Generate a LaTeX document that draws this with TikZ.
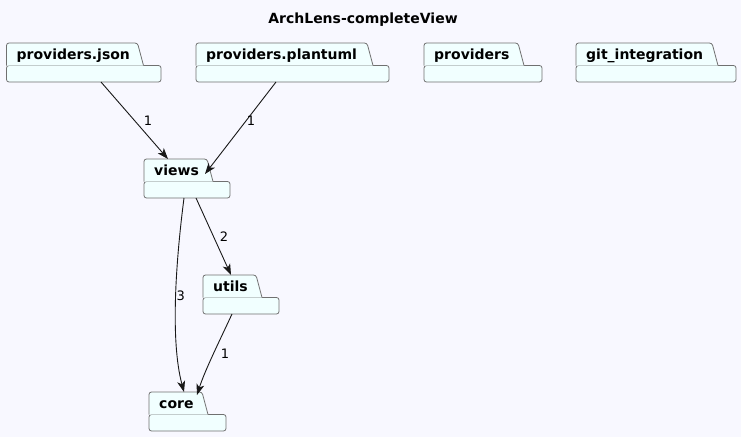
\documentclass[tikz,border=0pt]{standalone}
\usepackage{fontspec}
\setmainfont{DejaVu Sans}
\usetikzlibrary{arrows.meta,calc}
\definecolor{bgcol}{HTML}{F8F8FF}
\definecolor{pkgfill}{HTML}{F1FFFF}
\definecolor{pkgline}{HTML}{707070}
\definecolor{edgecol}{HTML}{181818}
\tikzset{
  pkgframe/.style={inner sep=0pt, outer sep=0pt, minimum height=39pt, anchor=north west},
  pkgshape/.style={draw=pkgline, fill=pkgfill, line width=0.8pt, rounded corners=2.5pt},
  pkglabel/.style={anchor=base west, inner sep=0pt, font=\fontsize{14}{16}\selectfont\bfseries},
  dep/.style={draw=edgecol, line width=0.9pt, -{Stealth[length=11pt,width=8pt,inset=3pt]}},
  deplabel/.style={font=\fontsize{13}{15}\selectfont, text=black, inner sep=0pt, anchor=center}
}
% package: name, left x, top y, tab width, body width, label
\newcommand\umlpkg[6]{%
  \node[pkgframe, minimum width=#5pt] (#1) at (#2,#3) {};
  \draw[pkgshape] ([yshift=16.5pt]#1.south west) rectangle (#1.south east);
  \draw[pkgshape] ([yshift=16.5pt]#1.south west) -- (#1.north west)
     -- ([xshift=#4pt]#1.north west) [sharp corners] -- ([xshift=#4pt+6pt,yshift=16.5pt]#1.south west);
  \node[pkglabel] at ([xshift=10pt,yshift=-16.5pt]#1.north west) {#6};
}
\begin{document}
\begin{tikzpicture}[x=1pt,y=-1pt]
  \fill[bgcol] (0,0) rectangle (741,437);
  \useasboundingbox (0,0) rectangle (741,437);

  \node[font=\fontsize{14}{16}\selectfont\bfseries, anchor=base, inner sep=0pt] (title) at (363,23) {ArchLens-completeView};

  \umlpkg{pjson}{6.5}{43}{131}{154.5}{providers.json}
  \umlpkg{ppuml}{196}{43}{171}{193}{providers.plantuml}
  \umlpkg{prov}{424}{43}{94}{118}{providers}
  \umlpkg{git}{576}{43}{136}{160}{git\_integration}
  \umlpkg{views}{144}{159}{63}{86}{views}
  \umlpkg{utils}{203}{275}{53}{76}{utils}
  \umlpkg{core}{149}{392}{53}{77}{core}

  % dependencies (labels offset from each edge's midpoint)
  \draw[dep] ([xshift=94.5pt]pjson.south west) -- node[deplabel, xshift=13.5pt] {1} ([xshift=24pt]views.north west);
  \draw[dep] ([xshift=80pt]ppuml.south west) -- node[deplabel, xshift=10.5pt, yshift=7pt] {1} ([xshift=61pt,yshift=-15pt]views.north west);
  \draw[dep] ([xshift=52pt]views.south west) -- node[deplabel, xshift=10.5pt] {2} ([xshift=28pt]utils.north west);
  \draw[dep] ([xshift=40pt]views.south west) .. controls (176,260) and (170,340) .. node[deplabel, xshift=5pt, yshift=3pt] {3} ([xshift=35pt]core.north west);
  \draw[dep] ([xshift=29pt]utils.south west) .. controls (220,340) and (205,370) .. node[deplabel, xshift=12pt, yshift=1pt] {1} ([xshift=48pt,yshift=-3pt]core.north west);
\end{tikzpicture}
\end{document}
